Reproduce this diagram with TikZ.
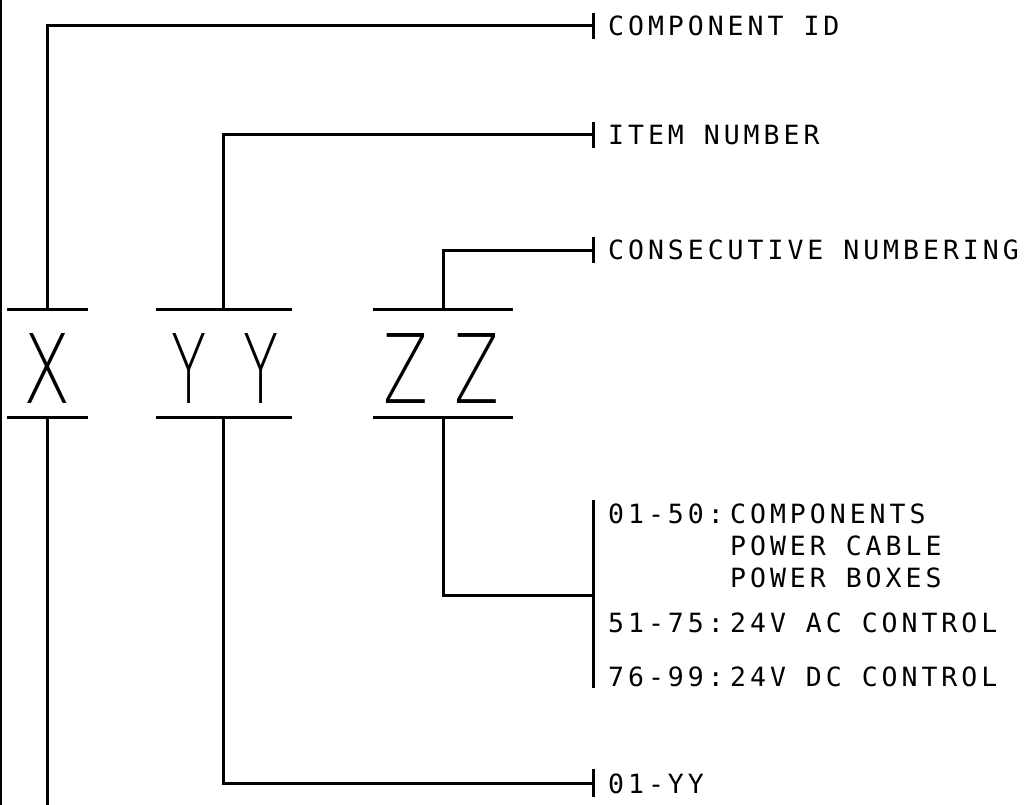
\documentclass[tikz,border=0pt]{standalone}
\usepackage{fontspec}
\newfontfamily\labelfont{DejaVu Sans Mono}[LetterSpace=15]
\newfontfamily\bigfont{DejaVuSans-ExtraLight.ttf}
\tikzset{
  ln/.style={line width=3pt, line cap=butt, line join=miter},
  tickmark/.style={line width=3pt},
  lbl/.style={anchor=base west, inner sep=0pt, font=\labelfont\fontsize{26.5}{26.5}\selectfont},
  big/.style={anchor=base, inner sep=0pt, font=\bigfont\fontsize{96}{96}\selectfont},
}
\begin{document}
\begin{tikzpicture}[x=1pt,y=-1pt]
\useasboundingbox (0,0) rectangle (1028,805);
\fill[white] (0,0) rectangle (1028,805);
% left border
\draw[line width=2.2pt] (1,0) -- (1,805);
% big letters
\node[big] (X) at (47.5,403) {\scalebox{0.72}[1]{X}};
\node[big] (YY) at (225,403) {\scalebox{0.6}[1]{Y\kern60pt Y}};
\node[big] (ZZ) at (441.5,403) {\scalebox{0.68}[1]{Z\kern38pt Z}};
% bars
\draw[ln] (7,309) -- (88,309) (7,417) -- (88,417);
\draw[ln] (156,309) -- (292,309) (156,417) -- (292,417);
\draw[ln] (373,309) -- (513,309) (373,417) -- (513,417);
% connector coordinates
\coordinate (xt) at (47,309);
\coordinate (xb) at (47,417);
\coordinate (yt) at (223,309);
\coordinate (yb) at (223,417);
\coordinate (zt) at (443,309);
\coordinate (zb) at (443,417);
\coordinate (t1) at (593,26);
\coordinate (t2) at (593,135);
\coordinate (t3) at (593,250);
\coordinate (t4) at (593,595);
\coordinate (t5) at (593,783);
\coordinate (xend) at (47,805);
% labels
\node[lbl] (l1) at (608,36) {COMPONENT ID};
\node[lbl] (l2) at (608,145) {ITEM NUMBER};
\node[lbl] (l3) at (608,259) {CONSECUTIVE NUMBERING};
\node[lbl] (r1) at (608,523) {01-50:};
\node[lbl] (r1a) at (730,523) {COMPONENTS};
\node[lbl] (r1b) at (730,555) {POWER CABLE};
\node[lbl] (r1c) at (730,587) {POWER BOXES};
\node[lbl] (r2) at (608,632) {51-75:};
\node[lbl] (r2a) at (730,632) {24V AC CONTROL};
\node[lbl] (r3) at (608,686) {76-99:};
\node[lbl] (r3a) at (730,686) {24V DC CONTROL};
\node[lbl] (l5) at (608,793) {01-YY};
% connectors
\draw[ln] (xt) |- (t1);
\draw[ln] (yt) |- (t2);
\draw[ln] (zt) |- (t3);
\draw[ln] (xb) -- (xend);
\draw[ln] (yb) |- (t5);
\draw[ln] (zb) |- (t4);
% ticks
\draw[tickmark] ([yshift=13pt]t1) -- ([yshift=-13pt]t1);
\draw[tickmark] ([yshift=13pt]t2) -- ([yshift=-13pt]t2);
\draw[tickmark] ([yshift=13pt]t3) -- ([yshift=-13pt]t3);
\draw[tickmark] ([yshift=14pt]t5) -- ([yshift=-14pt]t5);
% bracket
\draw[tickmark] (593,500) -- (593,688);
\end{tikzpicture}
\end{document}
